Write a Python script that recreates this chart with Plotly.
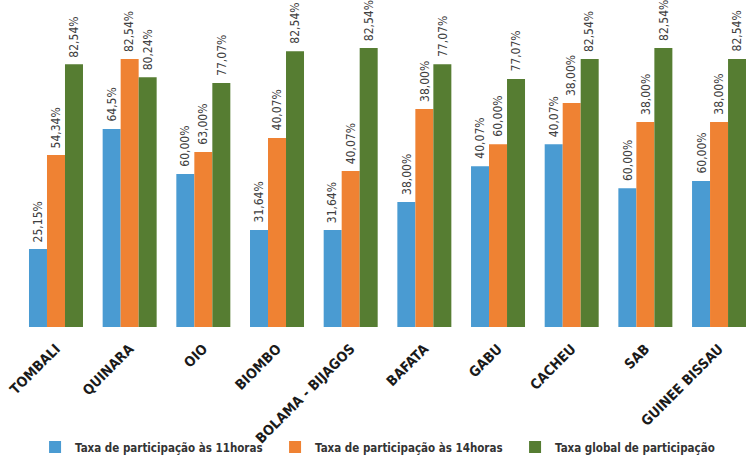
import plotly.graph_objects as go

categories = ["TOMBALI", "QUINARA", "OIO", "BIOMBO", "BOLAMA - BIJAGOS",
              "BAFATA", "GABU", "CACHEU", "SAB", "GUINEE BISSAU"]

series_names = ["Taxa de participação às 11horas",
                "Taxa de participação às 14horas",
                "Taxa global de participação"]

# bar heights as drawn in the picture
vals_11h = [25.2, 63.9, 49.4, 31.3, 31.3, 40.3, 51.9, 59.0, 44.8, 47.1]
vals_14h = [55.5, 86.5, 56.5, 61.0, 50.3, 70.3, 59.0, 72.3, 66.1, 66.1]
vals_global = [84.8, 80.6, 78.7, 89.0, 90.0, 84.8, 80.0, 86.5, 90.0, 86.5]

# value labels printed above the bars
labels_11h = ["25,15%", "64,5%", "60,00%", "31,64%", "31,64%",
              "38,00%", "40,07%", "40,07%", "60,00%", "60,00%"]
labels_14h = ["54,34%", "82,54%", "63,00%", "40,07%", "40,07%",
              "38,00%", "60,00%", "38,00%", "38,00%", "38,00%"]
labels_global = ["82,54%", "80,24%", "77,07%", "82,54%", "82,54%",
                 "77,07%", "77,07%", "82,54%", "82,54%", "82,54%"]

colors = ["#4A9BD2", "#EF8233", "#567D32"]
narrow = "DejaVu Sans Condensed, Liberation Sans Narrow, sans-serif"

values = [vals_11h, vals_14h, vals_global]
labels = [labels_11h, labels_14h, labels_global]

fig = go.Figure()
for name, v, c in zip(series_names, values, colors):
    fig.add_trace(go.Bar(x=categories, y=v, name=name, marker_color=c,
                         marker_line_width=0))

bargap = 0.267
bw = (1 - bargap) / 3
for k, (v, lab) in enumerate(zip(values, labels)):
    off = (k - 1) * bw
    for i, (yy, t) in enumerate(zip(v, lab)):
        fig.add_annotation(x=i + off, y=yy, xref="x", yref="y", text=t,
                           showarrow=False, textangle=-90, yanchor="bottom",
                           xanchor="center", yshift=5,
                           font=dict(family=narrow, size=12, color="#404040"))

fig.update_layout(
    width=746, height=458,
    margin=dict(l=0, r=0, t=0, b=131, autoexpand=False),
    paper_bgcolor="white", plot_bgcolor="white",
    barmode="group", bargap=bargap, bargroupgap=0,
    showlegend=True,
    legend=dict(orientation="h", xref="container", yref="container",
                x=0.047, y=0.024, xanchor="left", yanchor="middle",
                entrywidth=195, entrywidthmode="pixels",
                bgcolor="rgba(0,0,0,0)",
                font=dict(family=narrow, size=11.5, color="#333333", weight="bold"),
                traceorder="normal"),
)
fig.update_xaxes(range=[-0.76, 9.366], tickangle=-45, showline=False,
                 showgrid=False, ticks="", automargin=False,
                 ticklabelstandoff=10,
                 tickfont=dict(family=narrow, size=14, color="#1a1a1a", weight="bold"))
fig.update_yaxes(range=[0, 105.5], visible=False, showgrid=False, zeroline=False,
                 automargin=False)

fig.write_html("out.html")
